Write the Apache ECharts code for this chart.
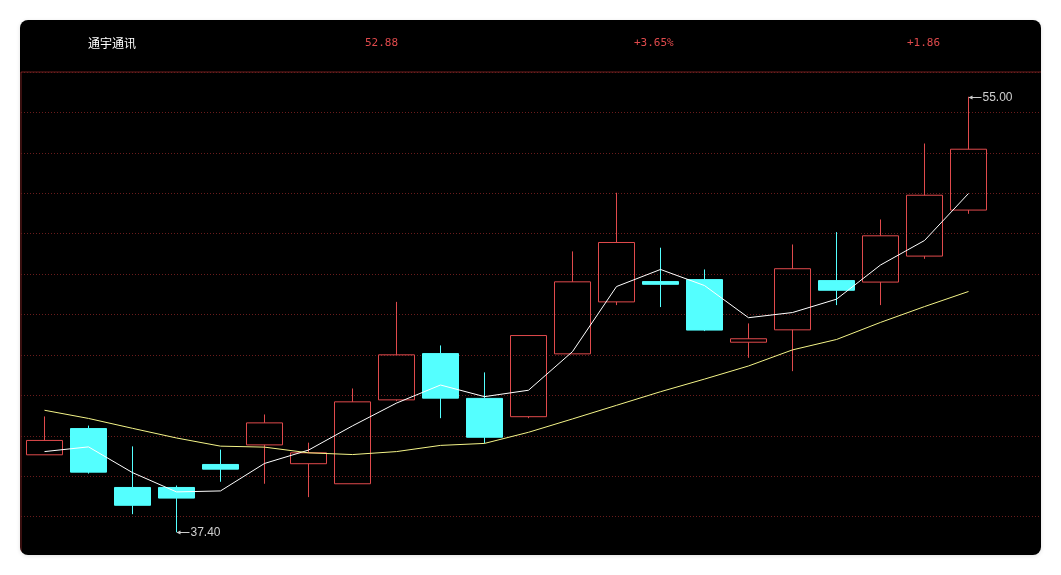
<!DOCTYPE html>
<html>
<head>
<meta charset="utf-8">
<script src="https://cdn.jsdelivr.net/npm/echarts@6/dist/echarts.min.js"></script>
<style>
  html, body { margin: 0; padding: 0; background: #ffffff; width: 1061px; height: 575px; overflow: hidden; }
  #card { position: absolute; left: 20px; top: 20px; width: 1021px; height: 535px; background: #000; border-radius: 8px; overflow: hidden; box-shadow: 0 1px 4px rgba(0,0,0,0.12); }
  #chart { position: absolute; left: 0; top: 0; width: 1030px; height: 545px; }
</style>
</head>
<body>
<div id="card"><div id="chart"></div></div>
<script>
// ---- data ----
const categories = ['1','2','3','4','5','6','7','8','9','10','11','12','13','14','15','16','17','18','19','20','21','22'];
const opens  = [40.53, 41.59, 39.21, 39.21, 40.14, 40.93, 40.17, 39.36, 42.75, 44.62, 42.81, 42.07, 44.61, 46.71, 47.53, 47.61, 45.08, 45.58, 47.57, 47.51, 48.56, 50.42];
const closes = [41.11, 39.83, 38.49, 38.78, 39.95, 41.82, 40.61, 42.67, 44.57, 42.82, 41.24, 45.35, 47.52, 49.11, 47.42, 45.57, 45.22, 48.05, 47.18, 49.38, 51.02, 52.88];
const lows   = [40.53, 39.77, 38.13, 37.40, 39.44, 39.36, 38.82, 39.36, 42.70, 42.01, 40.99, 42.01, 44.61, 46.58, 46.50, 45.53, 44.45, 43.91, 46.58, 46.58, 48.45, 50.27];
const highs  = [42.08, 41.71, 40.87, 39.29, 40.74, 42.16, 41.02, 43.21, 46.71, 44.95, 43.86, 45.35, 48.75, 51.12, 48.90, 48.02, 45.84, 49.03, 49.53, 50.04, 53.11, 55.00];
const whiteLine  = [40.66, 40.85, 39.81, 39.03, 39.07, 40.18, 40.72, 41.70, 42.62, 43.35, 42.88, 43.14, 44.70, 47.33, 48.02, 47.37, 46.07, 46.28, 46.82, 48.20, 49.19, 51.09];
const yellowLine = [42.33, 42.00, 41.60, 41.21, 40.88, 40.84, 40.61, 40.54, 40.66, 40.91, 40.99, 41.44, 41.98, 42.53, 43.08, 43.59, 44.12, 44.77, 45.19, 45.88, 46.52, 47.13];
const extremeIndex = [21, 3];
const extremeValue = [55.00, 37.40];
const headerName = '通宇通讯';
const headerPrice = '52.88';
const headerPct = '+3.65%';
const headerChg = '+1.86';
const yMin = 36.4, yMax = 56, ySplits = 12;

// ---- chart ----
const RED = '#e04a4c', CYAN = '#54ffff';
const kData = categories.map((c, i) => [opens[i], closes[i], lows[i], highs[i]]);
const annData = extremeIndex.map((idx, i) => [idx, extremeValue[i]]);
const chart = echarts.init(document.getElementById('chart'), null, { renderer: 'canvas' });
const interval = (yMax - yMin) / ySplits;
chart.setOption({
  backgroundColor: 'transparent',
  animation: false,
  graphic: [
    { type: 'text', left: 68, top: 17, style: { text: headerName, fill: '#ffffff', font: '12px "Noto Sans CJK SC"' } },
    { type: 'text', left: 345, top: 18, style: { text: headerPrice, fill: RED, font: '11px "DejaVu Sans Mono"' } },
    { type: 'text', left: 614, top: 18, style: { text: headerPct, fill: RED, font: '11px "DejaVu Sans Mono"' } },
    { type: 'text', left: 887, top: 18, style: { text: headerChg, fill: RED, font: '11px "DejaVu Sans Mono"' } }
  ],
  grid: [
    { left: 1, top: 52, width: 1026, height: 485, show: true, borderColor: '#701f1f', borderWidth: 1, backgroundColor: 'transparent' },
    { left: 2.5, top: 52, width: 968, height: 485 }
  ],
  xAxis: [
    { type: 'value', gridIndex: 0, min: 0, max: 1, show: false },
    { type: 'category', gridIndex: 1, data: categories, boundaryGap: true, show: false }
  ],
  yAxis: [
    { type: 'value', gridIndex: 0, min: yMin, max: yMax, interval: interval, axisLine: { show: false }, axisTick: { show: false }, axisLabel: { show: false },
      splitLine: { show: true, lineStyle: { color: '#6a1c1c', type: [1, 2], width: 1 } } },
    { type: 'value', gridIndex: 1, min: yMin, max: yMax, interval: interval, show: false, splitLine: { show: false } }
  ],
  series: [
    {
      type: 'candlestick', xAxisIndex: 1, yAxisIndex: 1, data: kData, barWidth: 36, z: 2,
      itemStyle: { color: 'rgba(0,0,0,0)', color0: CYAN, borderColor: RED, borderColor0: CYAN, borderWidth: 1 }
    },
    {
      type: 'line', xAxisIndex: 1, yAxisIndex: 1, data: whiteLine, symbol: 'none', smooth: false, z: 3,
      lineStyle: { color: '#ffffff', width: 1 }
    },
    {
      type: 'line', xAxisIndex: 1, yAxisIndex: 1, data: yellowLine, symbol: 'none', smooth: false, z: 3,
      lineStyle: { color: '#f4f488', width: 1 }
    },
    {
      type: 'custom', xAxisIndex: 1, yAxisIndex: 1, data: annData, z: 4, clip: false,
      renderItem: function (params, api) {
        const p = api.coord([api.value(0), api.value(1)]);
        const x = p[0], y = Math.round(p[1]) + 0.5;
        return {
          type: 'group',
          children: [
            { type: 'line', shape: { x1: x + 1, y1: y, x2: x + 13, y2: y }, style: { stroke: '#cccccc', lineWidth: 1 } },
            { type: 'polygon', shape: { points: [[x, y], [x + 4, y - 2], [x + 4, y + 2]] }, style: { fill: '#cccccc' } },
            { type: 'text', x: x + 14, y: y, style: { text: api.value(1).toFixed(2), fill: '#cfcfcf', font: '12px "Liberation Sans"', verticalAlign: 'middle', align: 'left' } }
          ]
        };
      }
    }
  ]
});
</script>
</body>
</html>
